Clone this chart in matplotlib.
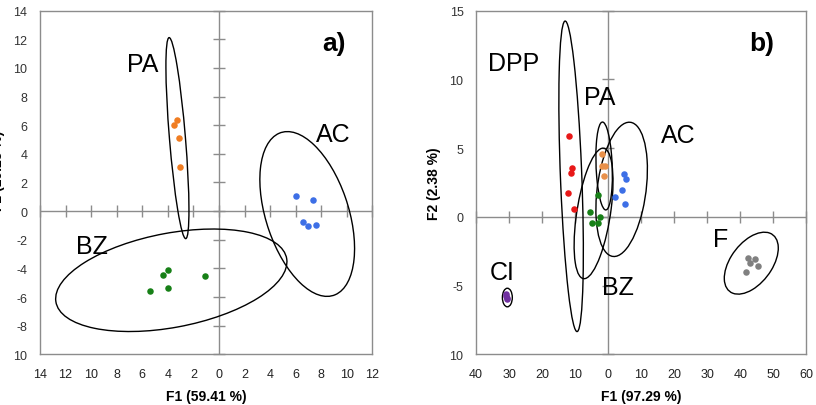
import matplotlib
matplotlib.use("Agg")
import matplotlib.pyplot as plt
from matplotlib.patches import Ellipse
import numpy as np

plt.rcParams['font.family'] = ['Liberation Sans', 'DejaVu Sans']

# ---------------- Panel a) data ----------------
a_groups = ["PA", "AC", "BZ"]
a_colors = ["#F07D22", "#3D6FE6", "#178017"]
a_pa_x = [-3.29, -3.52, -3.16, -3.05]
a_pa_y = [6.34, 5.99, 5.10, 3.08]
a_ac_x = [6.03, 7.36, 6.55, 6.99, 7.62]
a_ac_y = [1.03, 0.77, -0.79, -1.07, -0.98]
a_bz_x = [-3.97, -4.39, -1.10, -3.97, -5.38]
a_bz_y = [-4.14, -4.47, -4.54, -5.39, -5.58]
# confidence ellipses: centre x, centre y, width, height, angle (deg)
a_ell_cx = [-3.25, 6.9, -3.73]
a_ell_cy = [5.1, -0.2, -4.83]
a_ell_w = [14.1, 12.1, 18.3]
a_ell_h = [1.25, 6.4, 6.6]
a_ell_ang = [95.3, 111.3, 9.35]
a_lab_x = [-5.95, 8.93, -9.95]
a_lab_y = [10.26, 5.37, -2.44]
a_xticks = [-14, -12, -10, -8, -6, -4, -2, 0, 2, 4, 6, 8, 10, 12]
a_xticklabels = ["14", "12", "10", "8", "6", "4", "2", "0", "2", "4", "6", "8", "10", "12"]
a_yticks = [-10, -8, -6, -4, -2, 0, 2, 4, 6, 8, 10, 12, 14]
a_yticklabels = ["10", "-8", "-6", "-4", "-2", "0", "2", "4", "6", "8", "10", "12", "14"]

# ---------------- Panel b) data ----------------
b_groups = ["DPP", "PA", "AC", "BZ", "CI", "F"]
b_colors = ["#E81818", "#E8904A", "#3D6FE6", "#178017", "#7030A0", "#808080"]
b_dpp_x = [-11.9, -10.9, -11.3, -12.1, -10.3]
b_dpp_y = [5.9, 3.52, 3.16, 1.75, 0.56]
b_pa_x = [-1.7, -1.9, -0.8, -1.1]
b_pa_y = [4.6, 3.7, 3.7, 2.98]
b_ac_x = [4.85, 5.45, 4.24, 2.12, 5.15]
b_ac_y = [3.1, 2.79, 1.99, 1.46, 0.9]
b_bz_x = [-3.2, -5.45, -2.6, -4.9, -3.2]
b_bz_y = [1.58, 0.36, 0.0, -0.48, -0.48]
b_ci_x = [-31.0, -30.5, -30.8, -30.6]
b_ci_y = [-5.6, -5.9, -5.75, -6.0]
b_f_x = [42.4, 44.5, 43.0, 45.3, 41.7]
b_f_y = [-2.96, -3.05, -3.35, -3.54, -3.98]
b_ell_cx = [-11.2, -1.2, 4.1, -4.4, -30.5, 43.35]
b_ell_cy = [2.95, 3.7, 2.0, 0.25, -5.87, -3.37]
b_ell_w = [22.9, 6.57, 16.0, 13.2, 3.0, 16.5]
b_ell_h = [6.4, 4.77, 9.1, 7.4, 1.35, 3.9]
b_ell_ang = [99.8, 109.4, 15.7, 33.0, 0.0, 8.1]
b_lab_x = [-28.7, -2.5, 21.1, 2.85, -32.0, 34.1]
b_lab_y = [11.2, 8.7, 5.95, -5.14, -4.0, -1.62]
b_xticks = [-40, -30, -20, -10, 0, 10, 20, 30, 40, 50, 60]
b_xticklabels = ["40", "30", "20", "10", "0", "10", "20", "30", "40", "50", "60"]
b_yticks = [-10, -5, 0, 5, 10, 15]
b_yticklabels = ["10", "-5", "0", "5", "10", "15"]

GRAY = "#8c8c8c"

fig = plt.figure(figsize=(8.16, 4.06), dpi=100)
axA = fig.add_axes([0.0490, 0.1249, 0.4074, 0.8463])
axB = fig.add_axes([0.5833, 0.1249, 0.4048, 0.8463])


def style(ax, xt, xtl, yt, ytl, xlim, ylim):
    ax.set_xlim(*xlim)
    ax.set_ylim(*ylim)
    ax.set_xticks(xt)
    ax.set_xticklabels(xtl, fontsize=9, color="#222222")
    ax.set_yticks(yt)
    ax.set_yticklabels(ytl, fontsize=9, color="#333333")
    ax.tick_params(length=0, pad=9)
    ax.tick_params(axis="x", pad=10)
    for s in ax.spines.values():
        s.set_color(GRAY)
        s.set_linewidth(1.0)
    ax.axhline(0, color=GRAY, lw=1.0, zorder=1)
    ax.axvline(0, color=GRAY, lw=1.0, zorder=1)
    ax.plot(xt, [0] * len(xt), ls="none", marker="|", ms=8, mew=1.0, color=GRAY, zorder=1, clip_on=False)
    ax.plot([0] * len(yt), yt, ls="none", marker="_", ms=8, mew=1.0, color=GRAY, zorder=1, clip_on=False)


style(axA, a_xticks, a_xticklabels, a_yticks, a_yticklabels, (-14, 12), (-10, 14))
style(axB, b_xticks, b_xticklabels, b_yticks, b_yticklabels, (-40, 60), (-10, 15))

# panel a
for xs, ys, c in zip([a_pa_x, a_ac_x, a_bz_x], [a_pa_y, a_ac_y, a_bz_y], a_colors):
    axA.scatter(xs, ys, s=22, color=c, zorder=3, linewidths=0)
for cx, cy, w, h, ang in zip(a_ell_cx, a_ell_cy, a_ell_w, a_ell_h, a_ell_ang):
    axA.add_patch(Ellipse((cx, cy), w, h, angle=ang, fill=False, ec="black", lw=1.0, zorder=2))
for name, x, y in zip(a_groups, a_lab_x, a_lab_y):
    axA.text(x, y, name, fontsize=18, ha="center", va="center", color="black")
axA.text(0.885, 0.905, "a)", transform=axA.transAxes, fontsize=19, fontweight="bold", ha="center", va="center")
axA.set_xlabel("F1 (59.41 %)", fontsize=10, fontweight="bold", labelpad=6)

# panel b
for xs, ys, c in zip([b_dpp_x, b_pa_x, b_ac_x, b_bz_x, b_ci_x, b_f_x],
                     [b_dpp_y, b_pa_y, b_ac_y, b_bz_y, b_ci_y, b_f_y], b_colors):
    axB.scatter(xs, ys, s=22, color=c, zorder=3, linewidths=0)
for cx, cy, w, h, ang in zip(b_ell_cx, b_ell_cy, b_ell_w, b_ell_h, b_ell_ang):
    axB.add_patch(Ellipse((cx, cy), w, h, angle=ang, fill=False, ec="black", lw=1.0, zorder=2))
for name, x, y in zip(b_groups, b_lab_x, b_lab_y):
    axB.text(x, y, name, fontsize=18, ha="center", va="center", color="black")
axB.text(0.865, 0.905, "b)", transform=axB.transAxes, fontsize=19, fontweight="bold", ha="center", va="center")
axB.set_xlabel("F1 (97.29 %)", fontsize=10, fontweight="bold", labelpad=6)
axB.set_ylabel("F2 (2.38 %)", fontsize=10, fontweight="bold", labelpad=6)

fig.text(-0.002, 0.58, "F2 (19.23 %)", rotation=90, fontsize=10, fontweight="bold", ha="center", va="center")

fig.savefig("out.png", dpi=100)
